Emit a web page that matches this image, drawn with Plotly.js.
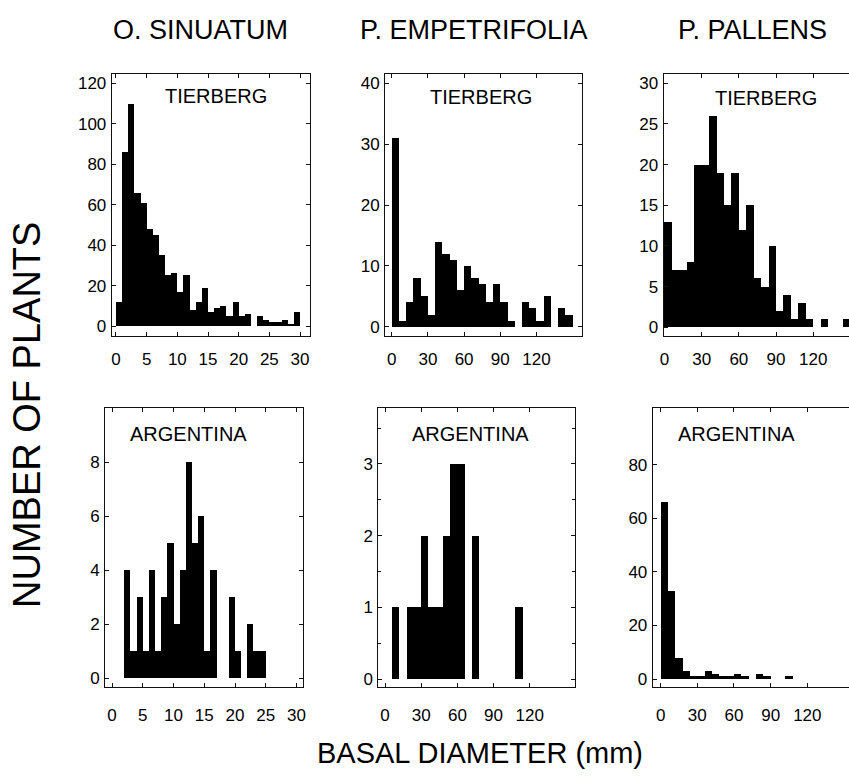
<!DOCTYPE html>
<html><head><meta charset="utf-8">
<script src="https://cdn.plot.ly/plotly-3.0.1.min.js"></script>
<style>html,body{margin:0;padding:0;background:#fff}#chart{width:849px;height:781px}</style>
</head><body><div id="chart"></div>
<script>
// ---- data ----
const speciesTitles = ["O. SINUATUM", "P. EMPETRIFOLIA", "P. PALLENS"];
const siteLabels = ["TIERBERG", "ARGENTINA"];
const yAxisTitle = "NUMBER OF PLANTS";
const xAxisTitle = "BASAL DIAMETER (mm)";

// bin widths in mm
const sinuatumBinWidth = 1;
const empetrifoliaBinWidth = 6;
const pallensBinWidth = 6;

// counts per bin, bins start at 0 mm
const sinuatumTierberg = [12,86,110,66,61,48,45,35,25,26,17,25,8,12,19,7,9,10,5,12,5,6,0,5,3,2,2,3,1,7];
const empetrifoliaTierberg = [31,1,4,8,5,2,14,12,11,6,10,8,7,4,7,4,1,0,4,3,1,5,0,3,2];
const pallensTierberg = [13,7,7,8,20,20,26,19,15,19,12,15,6,5,10,2,4,1,3,1,0,1,0,0,1];
const sinuatumArgentina = [0,0,4,1,3,1,4,1,3,5,2,4,8,5,6,1,4,0,0,3,1,0,2,1,1];
const empetrifoliaArgentina = [0,1,0,1,1,2,1,1,2,3,3,0,2,0,0,0,0,0,1];
const pallensArgentina = [66,33,8,3,1,1,3,2,1,1,2,1,0,2,1,0,0,1];

// tick labels
const sinuatumXTicks = [0,5,10,15,20,25,30];
const largeXTicks = [0,30,60,90,120];
const sinuatumTierbergYTicks = [0,20,40,60,80,100,120];
const empetrifoliaTierbergYTicks = [0,10,20,30,40];
const pallensTierbergYTicks = [0,5,10,15,20,25,30];
const sinuatumArgentinaYTicks = [0,2,4,6,8];
const empetrifoliaArgentinaYTicks = [0,1,2,3];
const pallensArgentinaYTicks = [0,20,40,60,80];

// ---- layout helpers ----
const W = 849, H = 781;
const FONT = "Liberation Sans, Arial, Helvetica, sans-serif";
const INK = "#111";

const panels = [
  {counts: sinuatumTierberg, bw: sinuatumBinWidth, box:[111.7,310,74,336], xr:[-0.7,31.63], yr:[-4.94,124.6], xt:sinuatumXTicks, yt:sinuatumTierbergYTicks, site:siteLabels[0], sx:215.8, sy:96, cut:false, row:0},
  {counts: empetrifoliaTierberg, bw: empetrifoliaBinWidth, box:[385,581.7,74,336], xr:[-5.55,157.5], yr:[-1.53,41.53], xt:largeXTicks, yt:empetrifoliaTierbergYTicks, site:siteLabels[0], sx:481, sy:97, cut:false, row:0},
  {counts: pallensTierberg, bw: pallensBinWidth, box:[663.5,849,74,336], xr:[-0.8,148.9], yr:[-1.07,31.14], xt:largeXTicks, yt:pallensTierbergYTicks, site:siteLabels[0], sx:766, sy:98, cut:true, row:0},
  {counts: sinuatumArgentina, bw: sinuatumBinWidth, box:[105,302.7,408,687], xr:[-1.14,31.0], yr:[-0.32,10.01], xt:sinuatumXTicks, yt:sinuatumArgentinaYTicks, site:siteLabels[1], sx:188, sy:434, cut:false, row:1},
  {counts: empetrifoliaArgentina, bw: empetrifoliaBinWidth, box:[378.3,575,408,687], xr:[-5.55,157.5], yr:[-0.11,3.78], xt:largeXTicks, yt:empetrifoliaArgentinaYTicks, site:siteLabels[1], sx:471, sy:434, cut:false, row:1, minorY:0.5},
  {counts: pallensArgentina, bw: pallensBinWidth, box:[652.7,849,408,687], xr:[-6.5,154.1], yr:[-2.99,101.3], xt:largeXTicks, yt:pallensArgentinaYTicks, site:siteLabels[1], sx:736, sy:434, cut:true, row:1}
];

const data = [];
const layout = {
  width: W, height: H,
  margin: {l:0, r:0, t:0, b:0},
  paper_bgcolor: "#fff", plot_bgcolor: "#fff",
  showlegend: false,
  bargap: 0,
  font: {family: FONT, color: "#000", size: 17},
  annotations: []
};

panels.forEach((p, i) => {
  const n = i === 0 ? "" : String(i + 1);
  const xs = p.counts.map((_, k) => p.bw * (k + 0.5));
  data.push({
    type: "bar", x: xs, y: p.counts, width: p.bw,
    xaxis: "x" + n, yaxis: "y" + n,
    marker: {color: "#000", line: {width: 0}},
    hoverinfo: "x+y"
  });
  const [x0, x1, y0, y1] = p.box;
  layout["xaxis" + n] = {
    domain: [x0 / W, x1 / W], anchor: "y" + n,
    range: p.xr, tickmode: "array", tickvals: p.xt,
    ticks: "inside", ticklen: 4, tickcolor: INK, tickwidth: 1,
    showline: true, linecolor: INK, linewidth: 1, mirror: "ticks",
    showgrid: false, zeroline: false,
    tickfont: {family: FONT, size: 17, color: "#000"},
    ticklabelstandoff: p.row === 0 ? 8 : 13,
    fixedrange: true
  };
  const ya = {
    domain: [1 - y1 / H, 1 - y0 / H], anchor: "x" + n,
    range: p.yr,
    ticks: "inside", ticklen: 4, tickcolor: INK, tickwidth: 1,
    showline: true, linecolor: INK, linewidth: 1, mirror: p.cut ? false : "ticks",
    showgrid: false, zeroline: false,
    tickfont: {family: FONT, size: 17, color: "#000"},
    ticklabelstandoff: 1,
    fixedrange: true
  };
  if (p.minorY) {
    ya.tickmode = "linear"; ya.tick0 = 0; ya.dtick = 1;
    ya.minor = {dtick: p.minorY, ticks: "inside", ticklen: 3, tickcolor: INK, showgrid: false};
  } else {
    ya.tickmode = "array"; ya.tickvals = p.yt;
  }
  layout["yaxis" + n] = ya;
  layout.annotations.push({
    text: p.site, xref: "paper", yref: "paper",
    x: p.sx / W, y: 1 - p.sy / H, xanchor: "center", yanchor: "middle",
    showarrow: false, font: {family: FONT, size: 20, color: "#000"}
  });
});

// species column titles
const titleX = [200, 474, 752];
speciesTitles.forEach((t, i) => {
  layout.annotations.push({
    text: t, xref: "paper", yref: "paper",
    x: titleX[i] / W, y: 1 - 30 / H, xanchor: "center", yanchor: "middle",
    showarrow: false, font: {family: FONT, size: 27, color: "#000"}
  });
});

layout.annotations.push({
  text: yAxisTitle, xref: "paper", yref: "paper",
  x: 27 / W, y: 1 - 415 / H, xanchor: "center", yanchor: "middle",
  textangle: -90, showarrow: false, font: {family: FONT, size: 38, color: "#000"}
});
layout.annotations.push({
  text: xAxisTitle, xref: "paper", yref: "paper",
  x: 480 / W, y: 1 - 753 / H, xanchor: "center", yanchor: "middle",
  showarrow: false, font: {family: FONT, size: 29, color: "#000"}
});

Plotly.newPlot("chart", data, layout, {staticPlot: true, displayModeBar: false});
</script>
</body></html>
